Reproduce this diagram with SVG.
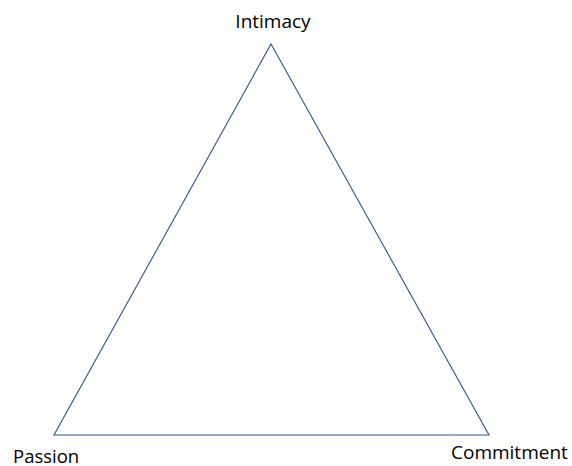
<svg xmlns="http://www.w3.org/2000/svg" width="572" height="466" viewBox="0 0 572 466">
<style>
.lbl{font-family:"Open Sans","Liberation Sans",sans-serif;font-size:19px;fill:#000}
.edge{fill:none;stroke:#2F528F;stroke-width:1.1}
</style>
<rect width="572" height="466" fill="#fff"/>
<g id="connectors">
<path class="edge" d="M271,44 L489,435 L54,435 Z"/>
</g>
<g id="intimacy"><text class="lbl" x="273" y="28" text-anchor="middle">Intimacy</text></g>
<g id="passion"><text class="lbl" x="13" y="463" style="font-size:18.5px">Passion</text></g>
<g id="commitment"><text class="lbl" x="451" y="459">Commitment</text></g>
</svg>
